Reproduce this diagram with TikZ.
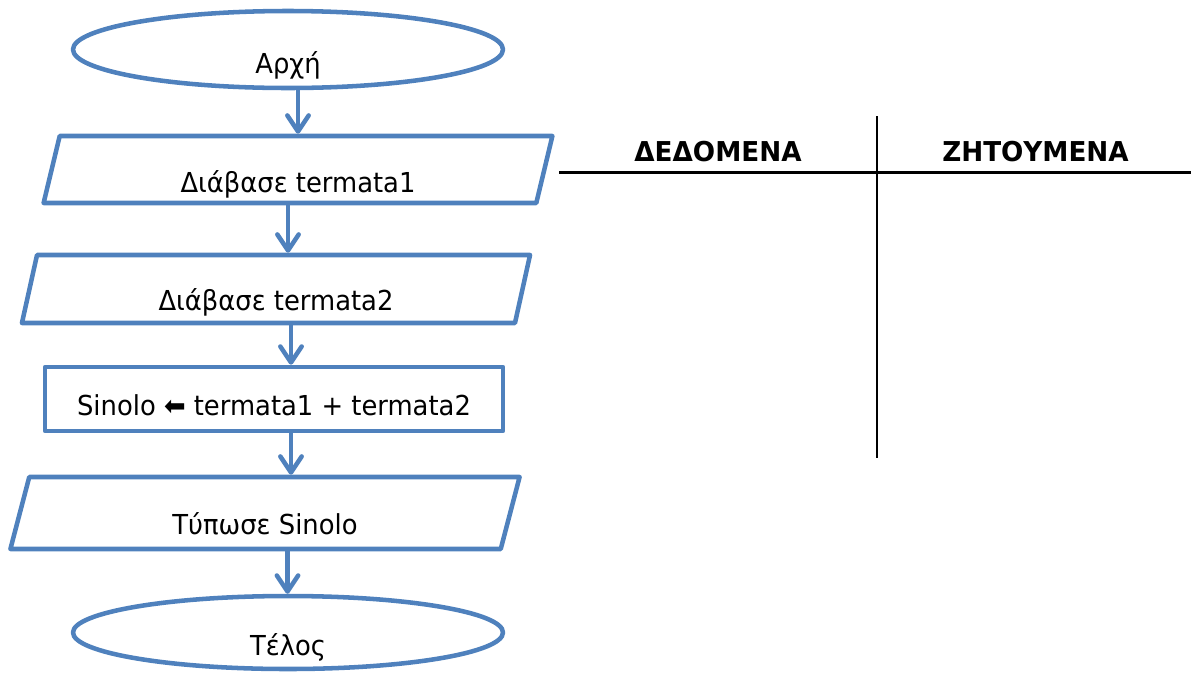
\documentclass[tikz,border=0pt]{standalone}
\usepackage{fontspec}
\setmainfont{DejaVu Sans}[FakeStretch=0.94]
\newfontfamily\hdfont{DejaVu Sans}[FakeStretch=0.96]
\usetikzlibrary{shapes.geometric,arrows.meta,calc}
\definecolor{flowblue}{RGB}{79,129,189}
\tikzset{
  box/.style={draw=flowblue, line width=3.4pt, line join=round, inner sep=0pt,
    font=\fontsize{20.6pt}{24pt}\selectfont, text depth=0pt},
  term/.style={box, ellipse, minimum width=322.5pt},
  io/.style={box, trapezium, trapezium left angle=80, trapezium right angle=100,
    trapezium stretches=true, minimum width=382pt},
  proc/.style={box, rectangle, minimum width=343.5pt, minimum height=48pt},
  flow/.style={draw=flowblue, line width=3.4pt, line cap=round,
    -{Straight Barb[length=12pt,width=16pt,round]}},
  rule/.style={draw=black, line width=1.6pt},
  hdr/.style={font=\hdfont\bfseries\fontsize{20.5pt}{24pt}\selectfont, anchor=base, inner sep=0pt}
}
\begin{document}
\begin{tikzpicture}[x=0.75pt,y=-0.75pt]
\useasboundingbox (0,0) rectangle (1191,672);
% flowchart
\node[term, minimum height=57.75pt, text height=35.25pt] (start) at (288,49.5) {Αρχή};
\node[io, minimum height=50.25pt, text height=33.75pt] (read1) at (298,169.5) {Διάβασε termata1};
\node[io, minimum height=51pt, text height=31.5pt] (read2) at (276,289) {Διάβασε termata2};
\node[proc, text height=24pt] (assign) at (274,399) {Sinolo ⬅ termata1 + termata2};
\node[io, minimum height=54pt, text height=31.5pt] (print) at (265,513) {Τύπωσε Sinolo};
\node[term, minimum height=54.75pt, text height=33.75pt] (end) at (288,632.5) {Τέλος};
% arrow columns
\coordinate (c1) at (298,0);
\coordinate (c2) at (288,0);
\coordinate (c3) at (291,0);
\coordinate (c4) at (291,0);
\coordinate (c5) at (287.5,0);
\draw[flow] (start.south -| c1) -- (read1.north -| c1);
\draw[flow] (read1.south -| c2) -- (read2.north -| c2);
\draw[flow] (read2.south -| c3) -- (assign.north -| c3);
\draw[flow] (assign.south -| c4) -- (print.north -| c4);
\draw[flow] (print.south -| c5) -- (end.north -| c5);
% table
\coordinate (hl) at (559,172.5);
\coordinate (hr) at (1191,172.5);
\coordinate (vt) at (877,116);
\coordinate (vb) at (877,458);
\draw[rule] (hl) -- (hr);
\draw[rule] (vt) -- (vb);
\node[hdr] (given) at (718,161) {ΔΕΔΟΜΕΝΑ};
\node[hdr] (sought) at (1035.5,161) {ΖΗΤΟΥΜΕΝΑ};
\end{tikzpicture}
\end{document}
